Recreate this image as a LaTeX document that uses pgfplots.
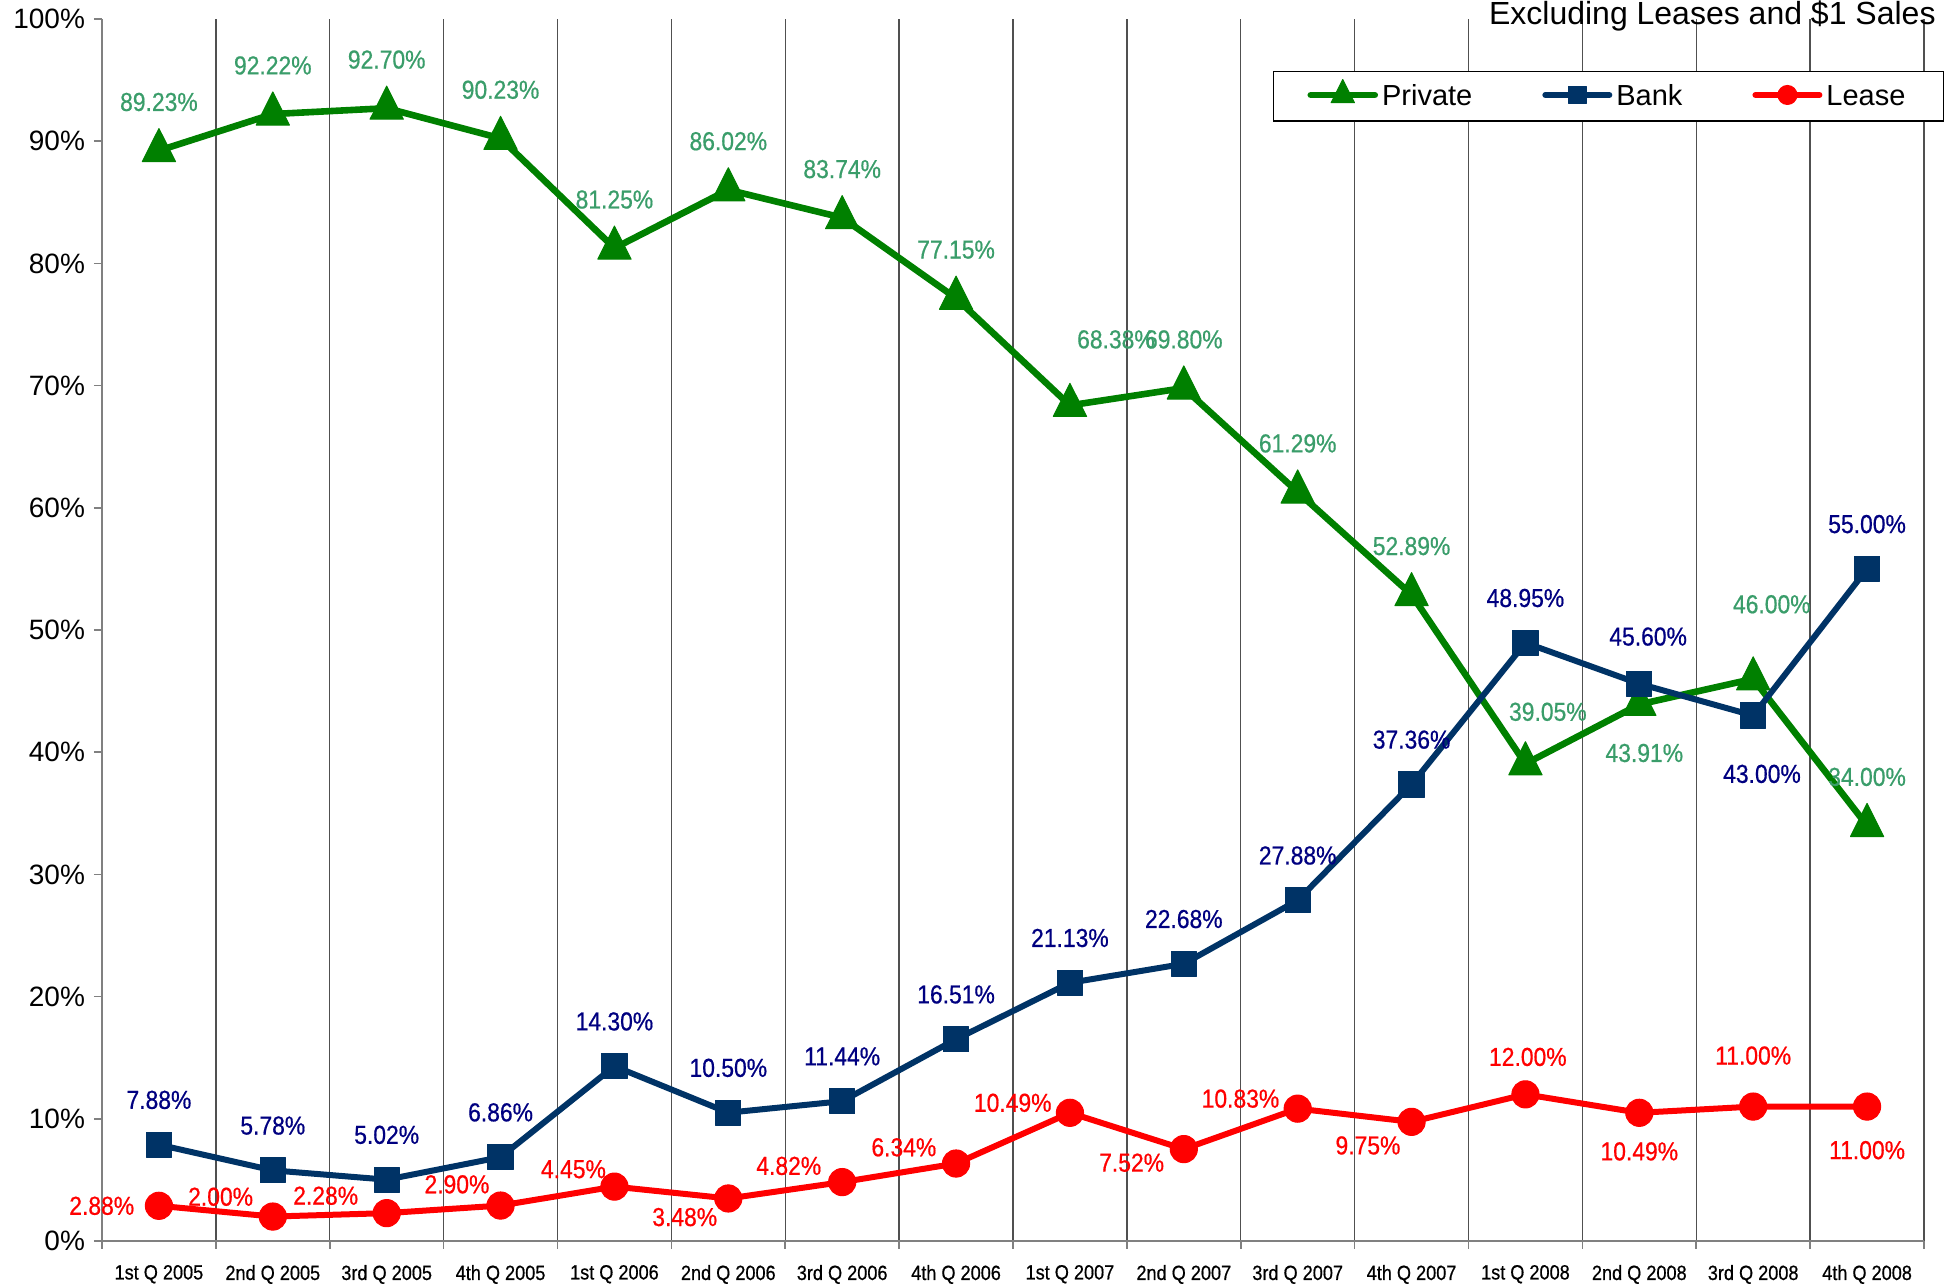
\documentclass[border=0pt]{standalone}
\usepackage{pgfplots}
\pgfplotsset{compat=1.18}
\usepackage{pgfplotstable}
\usepackage{fontspec}
\setmainfont{Liberation Sans}
\newfontfamily\narrowfont[FakeStretch=0.88]{Liberation Sans}
\newfontfamily\narrowboldish[FakeStretch=0.88,FakeBold=0.6]{Liberation Sans}
\definecolor{privgreen}{HTML}{008000}
\definecolor{banknavy}{HTML}{003366}
\definecolor{leasered}{HTML}{FF0000}
\definecolor{privlabel}{HTML}{3A9D6A}
\definecolor{banklabel}{HTML}{000080}
\definecolor{gridc}{HTML}{505050}

\pgfplotstableread{
x y dx dy
0 89.23 0 24.3
1 92.22 0 24.3
2 92.70 0 24.3
3 90.23 0 24.3
4 81.25 0 24.3
5 86.02 0 24.3
6 83.74 0 24.3
7 77.15 0 24.3
8 68.38 23 33
9 69.80 0 24.3
10 61.29 0 24.3
11 52.89 0 24.3
12 39.05 11.2 26
13 43.91 2.5 -24.3
14 46.00 9.3 37.3
15 34.00 0 24.3
}\privtab

\pgfplotstableread{
x y dx dy
0 7.88 0 22.4
1 5.78 0 22.4
2 5.02 0 22.4
3 6.86 0 22.4
4 14.30 0 22.4
5 10.50 0 22.4
6 11.44 0 22.4
7 16.51 0 22.4
8 21.13 0 22.4
9 22.68 0 22.4
10 27.88 0 22.4
11 37.36 0 22.4
12 48.95 0 22.4
13 45.60 4.4 23.6
14 43.00 4.4 -29.2
15 55.00 0 22.4
}\banktab

\pgfplotstableread{
x y dx dy
0 2.88 -28.6 0
1 2.00 -26.1 9.9
2 2.28 -30.5 8.7
3 2.90 -21.8 10.6
4 4.45 -20.5 8.7
5 3.48 -21.8 -9.3
6 4.82 -26.7 8.1
7 6.34 -26.1 8.1
8 10.49 -28.6 5.0
9 7.52 -26.1 -6.8
10 10.83 -28.6 5.0
11 9.75 -21.8 -11.8
12 12.00 1.2 18.7
13 10.49 0 -19.3
14 11.00 0 25.5
15 11.00 0 -21.8
}\leasetab

\pgfplotsset{
  lbl/.style={
    nodes near coords={\pgfmathprintnumber[fixed,fixed zerofill,precision=2]{\pgfplotspointmeta}\%},
    visualization depends on={\thisrow{dx}\as\dx},
    visualization depends on={\thisrow{dy}\as\dy},
    every node near coord/.append style={anchor=center, xshift=\dx pt, yshift=\dy pt,
      font=\narrowboldish\fontsize{13}{15}\selectfont, text=#1, inner sep=0pt},
  }
}

\begin{document}
\begin{tikzpicture}
\begin{axis}[
  at={(0,0)}, anchor=south west,
  scale only axis, width=911pt, height=611pt,
  xmin=-0.5, xmax=15.5, ymin=0, ymax=100,
  axis lines=left,
  axis line style={-, draw=gray, line width=1pt},
  every outer x axis line/.append style={-},
  every outer y axis line/.append style={-},
  xtick={-0.5,0.5,...,15.5},
  x tick label as interval,
  xticklabels={1st Q 2005,2nd Q 2005,3rd Q 2005,4th Q 2005,1st Q 2006,2nd Q 2006,3rd Q 2006,4th Q 2006,1st Q 2007,2nd Q 2007,3rd Q 2007,4th Q 2007,1st Q 2008,2nd Q 2008,3rd Q 2008,4th Q 2008},
  ytick={0,10,...,100},
  yticklabels={0\%,10\%,20\%,30\%,40\%,50\%,60\%,70\%,80\%,90\%,100\%},
  xmajorgrids,
  major x grid style={draw=gridc, line width=0.7pt},
  tick align=outside, major tick length=4pt,
  tick style={draw=gray, line width=0.8pt},
  xticklabel style={font=\narrowboldish\fontsize{10.3}{12}\selectfont, text=black, yshift=-4.5pt},
  yticklabel style={font=\fontsize{14}{16}\selectfont, text=black, xshift=-1pt},
  /pgf/number format/assume math mode=true,
  clip=false,
  legend columns=3,
  legend style={at={(1.011,0.9575)}, anchor=north east, draw=black, line width=0.6pt,
    font=\fontsize{14.5}{17}\selectfont, inner xsep=17pt, inner ysep=4pt,
    nodes={inner xsep=2pt, yshift=-1pt},
    /tikz/every even column/.append style={column sep=33pt}},
  legend image code/.code={\draw[mark repeat=2,mark phase=2,line cap=round,every mark/.append style={scale=0.7}] plot coordinates {(0pt,0pt) (16pt,0pt) (32pt,0pt)};},
]
\addplot[color=privgreen, line width=3.3pt, line join=round, mark=triangle*, mark size=9.6pt,
  mark options={line width=0.5pt, yscale=1.15}, lbl=privlabel]
  table[x=x,y=y] {\privtab};
\addlegendentry{Private}
\addplot[color=banknavy, line width=3pt, line join=round, mark=square*, mark size=6.3pt,
  mark options={line width=0.5pt}, lbl=banklabel]
  table[x=x,y=y] {\banktab};
\addlegendentry{Bank}
\addplot[color=leasered, line width=3pt, line join=round, mark=*, mark size=6.8pt,
  mark options={line width=0.5pt}, lbl=leasered]
  table[x=x,y=y] {\leasetab};
\addlegendentry{Lease}
\end{axis}
\node[anchor=base east, font=\fontsize{16}{18}\selectfont, inner sep=0pt] at (917pt,608pt) {Excluding Leases and \$1 Sales};
\pgfresetboundingbox
\path[use as bounding box] (-51pt,-22pt) rectangle (924pt,620.5pt);
\end{tikzpicture}
\end{document}
